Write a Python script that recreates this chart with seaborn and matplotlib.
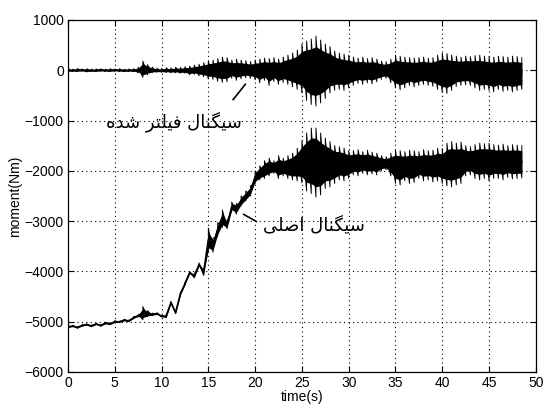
import numpy as np
import pandas as pd
import matplotlib
matplotlib.use('Agg')
import matplotlib.pyplot as plt
import seaborn as sns

# sample knots (s) and envelopes
time_s = np.arange(0, 49, 0.5)

filt_hi = [30, 20, 35, 25, 30, 20, 25, 30, 20, 30, 25, 30, 20, 25, 30,
           60, 180, 110, 60, 40, 35, 50, 45, 60, 55, 70, 80, 100, 120, 150,
           180, 200, 230, 260, 250, 200, 220, 200, 190, 170, 200, 220, 240, 230, 250, 220, 260, 300, 340, 400,
           520, 580, 620, 680, 600, 520, 470, 380, 340, 320, 300, 260, 240, 260, 230, 250, 220, 180, 170, 220,
           300, 280, 260, 250, 240, 250, 260, 240, 250, 300, 340, 330, 300, 280, 260, 280, 270, 290, 300, 280,
           270, 260, 280, 270, 260, 280, 270, 250]
filt_lo = [-30, -25, -30, -20, -35, -25, -30, -20, -25, -30, -20, -25, -30, -25, -30,
           -50, -140, -90, -50, -40, -40, -45, -50, -50, -60, -60, -90, -80, -110, -130,
           -170, -180, -220, -240, -230, -160, -200, -170, -150, -160, -190, -250, -200, -300, -220, -280, -240, -280, -330, -380,
           -450, -600, -680, -710, -650, -560, -450, -400, -380, -400, -350, -300, -260, -280, -250, -270, -230, -180, -160, -250,
           -350, -390, -350, -300, -330, -300, -280, -300, -320, -380, -440, -460, -400, -320, -300, -290, -300, -350, -400, -380,
           -400, -430, -380, -420, -400, -430, -400, -380]

orig_hi = [-5090, -5070, -5100, -5060, -5040, -5070, -5030, -5060, -5010, -5030, -4980, -4990, -4950, -4970, -4900,
           -4860, -4700, -4780, -4830, -4820, -4870, -4860, -4600, -4800, -4430, -4220, -4000, -4050, -3830, -3950,
           -3140, -3340, -3030, -2780, -3000, -2620, -2650, -2500, -2400, -2300, -2000, -1900, -1800, -1750, -1800, -1700, -1750, -1700, -1650, -1550,
           -1400, -1250, -1150, -1150, -1250, -1350, -1420, -1500, -1520, -1550, -1600, -1600, -1580, -1620, -1590, -1630, -1650, -1700, -1720, -1650,
           -1590, -1600, -1620, -1590, -1600, -1620, -1580, -1600, -1590, -1550, -1560, -1450, -1420, -1450, -1430, -1500, -1520, -1480, -1450, -1460,
           -1450, -1480, -1490, -1470, -1500, -1480, -1490, -1500]
orig_lo = [-5120, -5100, -5130, -5090, -5075, -5100, -5060, -5090, -5045, -5060, -5015, -5020, -4985, -5000, -4940,
           -4900, -4960, -4900, -4880, -4860, -4910, -4920, -4640, -4840, -4480, -4270, -4050, -4130, -3900, -4080,
           -3600, -3620, -3300, -3120, -3150, -2800, -2860, -2700, -2600, -2500, -2250, -2180, -2150, -2100, -2050, -2150, -2100, -2150, -2180, -2200,
           -2240, -2400, -2450, -2520, -2480, -2350, -2320, -2250, -2180, -2200, -2150, -2080, -2100, -2050, -2080, -2060, -2080, -2000, -1980, -2100,
           -2250, -2280, -2200, -2250, -2230, -2150, -2200, -2180, -2220, -2200, -2250, -2300, -2320, -2280, -2250, -2100, -2080, -2150, -2180, -2150,
           -2200, -2150, -2150, -2180, -2130, -2160, -2150, -2140]

label_filtered = 'سیگنال فیلتر شده'
label_original = 'سیگنال اصلی'

x_ticks = [0, 5, 10, 15, 20, 25, 30, 35, 40, 45, 50]
y_ticks = [-6000, -5000, -4000, -3000, -2000, -1000, 0, 1000]

# matplotlib has no arabic shaping, so pick presentation forms by hand
FORMS = {
    'س': (0xFEB1, 0xFEB2, 0xFEB3, 0xFEB4), 'ش': (0xFEB5, 0xFEB6, 0xFEB7, 0xFEB8),
    'ص': (0xFEB9, 0xFEBA, 0xFEBB, 0xFEBC), 'ی': (0xFBFC, 0xFBFD, 0xFBFE, 0xFBFF),
    'گ': (0xFB92, 0xFB93, 0xFB94, 0xFB95), 'ن': (0xFEE5, 0xFEE6, 0xFEE7, 0xFEE8),
    'ل': (0xFEDD, 0xFEDE, 0xFEDF, 0xFEE0), 'ف': (0xFED1, 0xFED2, 0xFED3, 0xFED4),
    'ت': (0xFE95, 0xFE96, 0xFE97, 0xFE98), 'ه': (0xFEE9, 0xFEEA, 0xFEEB, 0xFEEC),
    'ا': (0xFE8D, 0xFE8E), 'ر': (0xFEAD, 0xFEAE), 'د': (0xFEA9, 0xFEAA),
}


def shape(text):
    out = []
    for i, c in enumerate(text):
        if c not in FORMS:
            out.append(c)
            continue
        prev = text[i - 1] if i > 0 else ' '
        nxt = text[i + 1] if i + 1 < len(text) else ' '
        jp = prev in FORMS and len(FORMS[prev]) == 4
        jn = len(FORMS[c]) == 4 and nxt in FORMS
        f = FORMS[c]
        if jp and jn:
            out.append(chr(f[3]))
        elif jp:
            out.append(chr(f[1]))
        elif jn:
            out.append(chr(f[2]))
        else:
            out.append(chr(f[0]))
    return ''.join(out[::-1])


rows = []
for name, lo, hi in [('filtered', filt_lo, filt_hi), ('original', orig_lo, orig_hi)]:
    for t, l, h in zip(time_s, lo, hi):
        rows.append((name, t, l))
        rows.append((name, t, h))
df = pd.DataFrame(rows, columns=['signal', 'time', 'moment'])

plt.rcParams['font.family'] = ['Liberation Sans', 'DejaVu Sans']
fig, ax = plt.subplots(figsize=(5.44, 4.07), dpi=100)
fig.subplots_adjust(left=0.125, right=0.985, bottom=0.086, top=0.951)

# dense core of each signal
sns.lineplot(data=df, x='time', y='moment', hue='signal', palette=['black', 'black'],
             estimator='mean', errorbar=('pi', 70), err_kws={'alpha': 1, 'linewidth': 0},
             linewidth=1.2, legend=False, ax=ax)
# oscillation strokes out to the envelopes
sns.lineplot(data=df, x='time', y='moment', units='signal', estimator=None, sort=False,
             color='black', linewidth=0.7, ax=ax)

ax.set_xlim(0, 50)
ax.set_ylim(-6000, 1000)
ax.set_xticks(x_ticks)
ax.set_yticks(y_ticks)
ax.grid(True, linestyle=(0, (1, 3)), color='black', linewidth=0.8)
ax.tick_params(direction='in', top=True, right=True, length=4, labelsize=10, pad=3)
for s in ax.spines.values():
    s.set_linewidth(0.9)
ax.set_xlabel('time(s)', fontsize=10, labelpad=0)
ax.set_ylabel('moment(Nm)', fontsize=10, labelpad=2)

ax.annotate('', xy=(19.15, -233), xytext=(17.45, -630),
            arrowprops=dict(arrowstyle='-', lw=1.2, color='black'))
ax.text(11.3, -1030, shape(label_filtered), family='DejaVu Sans', fontsize=13,
        ha='center', va='center')
ax.annotate('', xy=(18.5, -2837), xytext=(20.4, -3036),
            arrowprops=dict(arrowstyle='-', lw=1.2, color='black'))
ax.text(26.3, -3075, shape(label_original), family='DejaVu Sans', fontsize=13,
        ha='center', va='center')

plt.savefig('out.png', dpi=100)
plt.close()
